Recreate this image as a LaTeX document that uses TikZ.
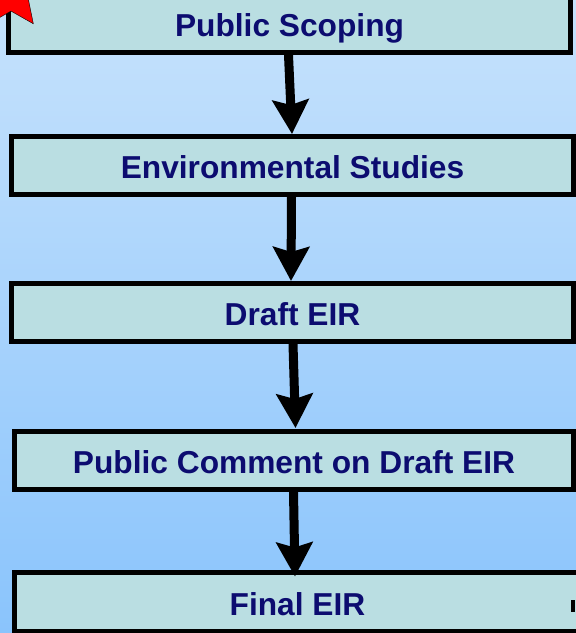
\documentclass[tikz,border=0pt]{standalone}
\usepackage{fontspec}
\setmainfont{Liberation Sans}
\usetikzlibrary{arrows.meta,shapes.geometric,positioning}
\definecolor{navytxt}{RGB}{12,12,112}
\definecolor{boxfill}{RGB}{186,222,226}
\definecolor{bgtop}{RGB}{198,226,252}
\definecolor{bgbot}{RGB}{138,196,252}
\tikzset{
  stage/.style = { draw, line width=5pt, fill=boxfill, rectangle, inner sep=0pt,
    minimum width=562pt, minimum height=58pt, text=navytxt,
    text height=26pt, text depth=0pt,
    font=\fontsize{31.7}{38}\selectfont\bfseries },
  flow/.style  = { line width=9pt, -{Stealth[width=36pt,length=34pt,inset=5pt]} },
  redstar/.style  = { star, star points=5, star point ratio=2.1, draw=black, thin,
    fill=red, minimum size=76pt, inner sep=0pt }
}
\begin{document}
\begin{tikzpicture}[x=1pt,y=-1pt]
      \useasboundingbox (0,0) rectangle (576,633);
      \shade[top color=bgtop, bottom color=bgbot] (0,0) rectangle (576,633);
      % stages of the review
      \node[stage] (b1) at (289.5,23.5) {Public Scoping};
      \node[stage] (b2) at (292.5,165.5) {Environmental Studies};
      \node[stage] (b3) at (292.5,312.5) {Draft EIR};
      \node[stage, minimum width=559pt] (b4) at (294,460.5) {Public Comment on Draft EIR};
      \node[stage, minimum width=566pt, minimum height=59pt] (b5) at (297.5,602) {Final EIR};
      \fill (571,600) rectangle (575,612);
      \node[redstar] (st) at (11,-7) {};
      \path[flow] ([xshift=-1pt]b1.south) edge ([xshift=-0.5pt]b2.north);
      \path[flow] ([xshift=-1pt]b2.south) edge ([xshift=-1.5pt]b3.north);
      \path[flow] ([xshift=0.5pt]b3.south) edge ([xshift=1.5pt,yshift=1pt]b4.north);
      \path[flow] ([xshift=-0.5pt]b4.south) edge ([xshift=-2.5pt,yshift=-6.5pt]b5.north);
    \end{tikzpicture}
\end{document}
